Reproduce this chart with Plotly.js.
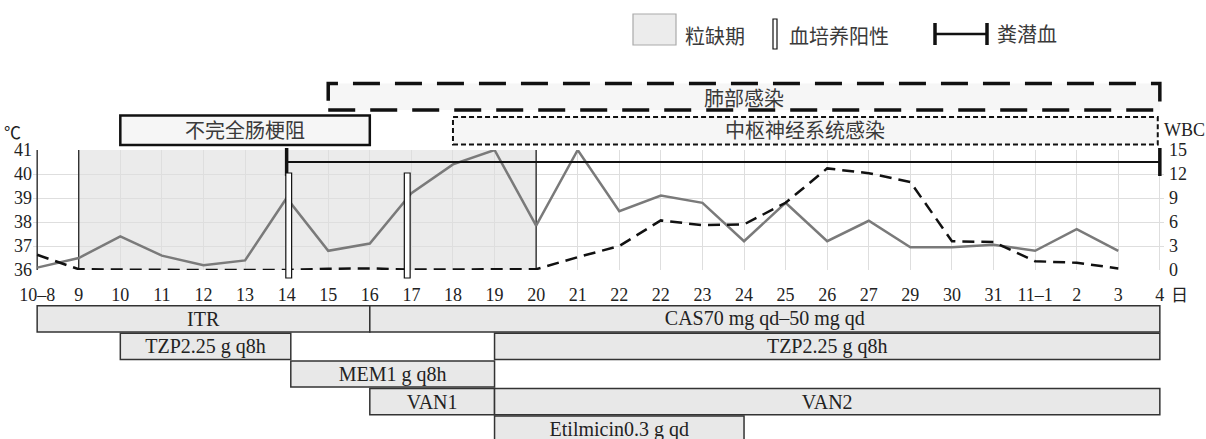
<!DOCTYPE html>
<html>
<head>
<meta charset="utf-8">
<script src="https://cdn.plot.ly/plotly-3.0.1.min.js"></script>
<style>html,body{margin:0;padding:0;background:#fff;}#chart{width:1206px;height:439px;}</style>
</head>
<body>
<div id="chart"></div>
<script>
// ---------------- data ----------------
const dayLabels = ['10–8','9','10','11','12','13','14','15','16','17','18','19','20','21','22','22','23','24','25','26','27','29','30','31','11–1','2','3','4'];
const temperature = [36.1, 36.5, 37.4, 36.6, 36.2, 36.4, 39.0, 36.8, 37.1, 39.2, 40.4, 41.0, 37.85, 41.0, 38.45, 39.1, 38.8, 37.2, 38.8, 37.2, 38.05, 36.95, 36.95, 37.05, 36.8, 37.7, 36.8, null];
const wbc = [1.9, 0.1, 0.05, 0, 0, 0, 0, 0.15, 0.2, 0.05, 0.05, 0.05, 0.1, 1.6, 3.0, 6.2, 5.6, 5.7, 8.4, 12.7, 12.1, 11.0, 3.6, 3.5, 1.1, 0.9, 0.2, null];

// neutropenia period (day index)
const neutropeniaStart = 1, neutropeniaEnd = 12;
// positive blood culture (day index)
const bloodCultureDays = [6.05, 8.9];
// fecal occult blood
const fobStart = 6, fobEnd = 27, fobLevel = 40.5;

// infection episodes
const episodeNames = ['肺部感染', '不完全肠梗阻', '中枢神经系统感染'];
const episodeStart = [7, 2, 10];
const episodeEnd = [27, 8, 26.95];

// medications
const medNames = ['ITR', 'CAS70 mg qd–50 mg qd', 'TZP2.25 g q8h', 'TZP2.25 g q8h', 'MEM1 g q8h', 'VAN1', 'VAN2', 'Etilmicin0.3 g qd'];
const medRow   = [0, 0, 1, 1, 2, 3, 3, 4];
const medStart = [0, 8, 2, 11, 6.1, 8, 11, 11];
const medEnd   = [8, 27, 6.1, 27, 11, 11, 27, 17];

// legend texts
const legendTexts = ['粒缺期', '血培养阳性', '粪潜血'];

// ---------------- helpers ----------------
const W = 1206, H = 439, ML = 33, MR = 42;
const py = p => 1 - p / H;
const pxp = p => (p - ML) / (W - ML - MR);
const idx = dayLabels.map((_, i) => i);
const serif = 'Liberation Serif';
const cjk = 'Noto Sans CJK SC';

const traces = [
  {
    x: idx, y: temperature, type: 'scatter', mode: 'lines',
    line: {color: '#7a7a7a', width: 2.5}, xaxis: 'x', yaxis: 'y', cliponaxis: false, showlegend: false
  },
  {
    x: idx, y: wbc, type: 'scatter', mode: 'lines',
    line: {color: '#111', width: 2.5, dash: '12px,7px'}, xaxis: 'x', yaxis: 'y2', cliponaxis: false, showlegend: false
  },
  {
    x: [fobStart, fobEnd], y: [fobLevel, fobLevel], type: 'scatter', mode: 'lines+markers',
    line: {color: '#111', width: 2.2},
    marker: {symbol: 'line-ns', size: 20, line: {color: '#111', width: 3.5}},
    xaxis: 'x', yaxis: 'y', cliponaxis: false, showlegend: false
  },
  {
    type: 'bar', orientation: 'h',
    y: medRow, base: medStart, x: medEnd.map((e, i) => e - medStart[i]),
    text: medNames, textposition: 'inside', insidetextanchor: 'middle', textangle: 0, constraintext: 'none',
    insidetextfont: {family: serif, size: 20, color: '#222'},
    width: 0.95,
    marker: {color: '#e8e8e8', line: {color: '#333', width: 1.5}},
    xaxis: 'x2', yaxis: 'y3', showlegend: false
  }
];

const shapes = [];
// neutropenia shading
shapes.push({type: 'rect', xref: 'x', yref: 'y', x0: neutropeniaStart, x1: neutropeniaEnd, y0: 36, y1: 41,
  fillcolor: '#ebebeb', line: {width: 0}, layer: 'below'});
// vertical black lines: left edge and neutropenia boundaries
[0, neutropeniaStart, neutropeniaEnd].forEach(d => {
  shapes.push({type: 'line', xref: 'x', yref: 'y', x0: d, x1: d, y0: 36, y1: 41,
    line: {color: '#222', width: 1.3}, layer: 'between'});
});
// blood culture bars
bloodCultureDays.forEach(d => {
  shapes.push({type: 'rect', xref: 'x', yref: 'paper', x0: d - 0.07, x1: d + 0.07, y0: py(278), y1: py(173),
    fillcolor: '#fff', line: {color: '#111', width: 1.2}, layer: 'above'});
});
// episode boxes
const epStyle = [
  {y0: 110, y1: 83.5, dash: '27px,15px', width: 3.5, ty: 97},
  {y0: 145, y1: 115.5, dash: 'solid', width: 2.5, ty: 130},
  {y0: 144.5, y1: 117, dash: '5px,3px', width: 2, ty: 130}
];
const annotations = [];
episodeNames.forEach((n, i) => {
  const s = epStyle[i];
  shapes.push({type: 'rect', xref: 'x', yref: 'paper', x0: episodeStart[i], x1: episodeEnd[i], y0: py(s.y0), y1: py(s.y1),
    fillcolor: '#f6f6f6', line: {color: '#111', width: s.width, dash: s.dash}, layer: 'above'});
  annotations.push({xref: 'x', yref: 'paper', x: (episodeStart[i] + episodeEnd[i]) / 2, y: py(s.ty), text: n,
    showarrow: false, font: {family: cjk, size: 20, color: '#3a3a3a'}, xanchor: 'center', yanchor: 'middle'});
});

// legend
shapes.push({type: 'rect', xref: 'paper', yref: 'paper', x0: pxp(633), x1: pxp(676), y0: py(45), y1: py(14),
  fillcolor: '#ececec', line: {color: '#aaa', width: 1.2}});
shapes.push({type: 'rect', xref: 'paper', yref: 'paper', x0: pxp(773), x1: pxp(777), y0: py(49), y1: py(19),
  fillcolor: '#fff', line: {color: '#111', width: 1.2}});
shapes.push({type: 'line', xref: 'paper', yref: 'paper', x0: pxp(935), x1: pxp(987), y0: py(34), y1: py(34),
  line: {color: '#111', width: 2.5}});
[935, 987].forEach(xp => shapes.push({type: 'line', xref: 'paper', yref: 'paper', x0: pxp(xp), x1: pxp(xp), y0: py(45), y1: py(23),
  line: {color: '#111', width: 3.5}}));
[[715, 35], [839, 35], [1027, 33]].forEach((p, i) => {
  annotations.push({xref: 'paper', yref: 'paper', x: pxp(p[0]), y: py(p[1]), text: legendTexts[i], showarrow: false,
    font: {family: cjk, size: 20, color: '#3a3a3a'}, xanchor: 'center', yanchor: 'middle'});
});
// axis unit labels
annotations.push({xref: 'paper', yref: 'paper', x: pxp(12), y: py(131), text: '℃', showarrow: false,
  font: {family: cjk, size: 17, color: '#222'}, xanchor: 'center', yanchor: 'middle'});
annotations.push({xref: 'paper', yref: 'paper', x: pxp(1184), y: py(130), text: 'WBC', showarrow: false,
  font: {family: serif, size: 18, color: '#222'}, xanchor: 'center', yanchor: 'middle'});
annotations.push({xref: 'paper', yref: 'paper', x: pxp(1179), y: py(293), text: '日', showarrow: false,
  font: {family: cjk, size: 17, color: '#222'}, xanchor: 'center', yanchor: 'middle'});

const tickFont = {family: serif, size: 18, color: '#222'};
const layout = {
  width: W, height: H,
  margin: {l: ML, r: MR, t: 0, b: 0, pad: 0},
  paper_bgcolor: '#fff', plot_bgcolor: 'rgba(0,0,0,0)',
  showlegend: false, hovermode: false,
  xaxis: {domain: [0, 1], range: [-0.1, 27.1], tickmode: 'array', tickvals: idx, ticktext: dayLabels,
    showgrid: true, gridcolor: '#dedede', gridwidth: 1, zeroline: false, showline: false, ticks: '',
    ticklabelstandoff: 12, tickfont: tickFont, anchor: 'y', fixedrange: true},
  yaxis: {domain: [py(270), py(150)], range: [36, 41], tickmode: 'linear', tick0: 36, dtick: 1,
    showgrid: true, gridcolor: '#dedede', zeroline: false, showline: false, ticks: '', tickfont: tickFont, anchor: 'x'},
  yaxis2: {overlaying: 'y', side: 'right', range: [0, 15], tickmode: 'linear', tick0: 0, dtick: 3,
    showgrid: false, zeroline: false, showline: false, ticks: '', ticklabelstandoff: 4, tickfont: tickFont, anchor: 'x'},
  xaxis2: {domain: [0, 1], range: [-0.1, 27.1], anchor: 'y3', visible: false},
  yaxis3: {domain: [0, py(300)], range: [4.355, -0.681], anchor: 'x2', visible: false},
  bargap: 0,
  shapes: shapes,
  annotations: annotations
};

Plotly.newPlot('chart', traces, layout, {displayModeBar: false, staticPlot: true});
</script>
</body>
</html>
